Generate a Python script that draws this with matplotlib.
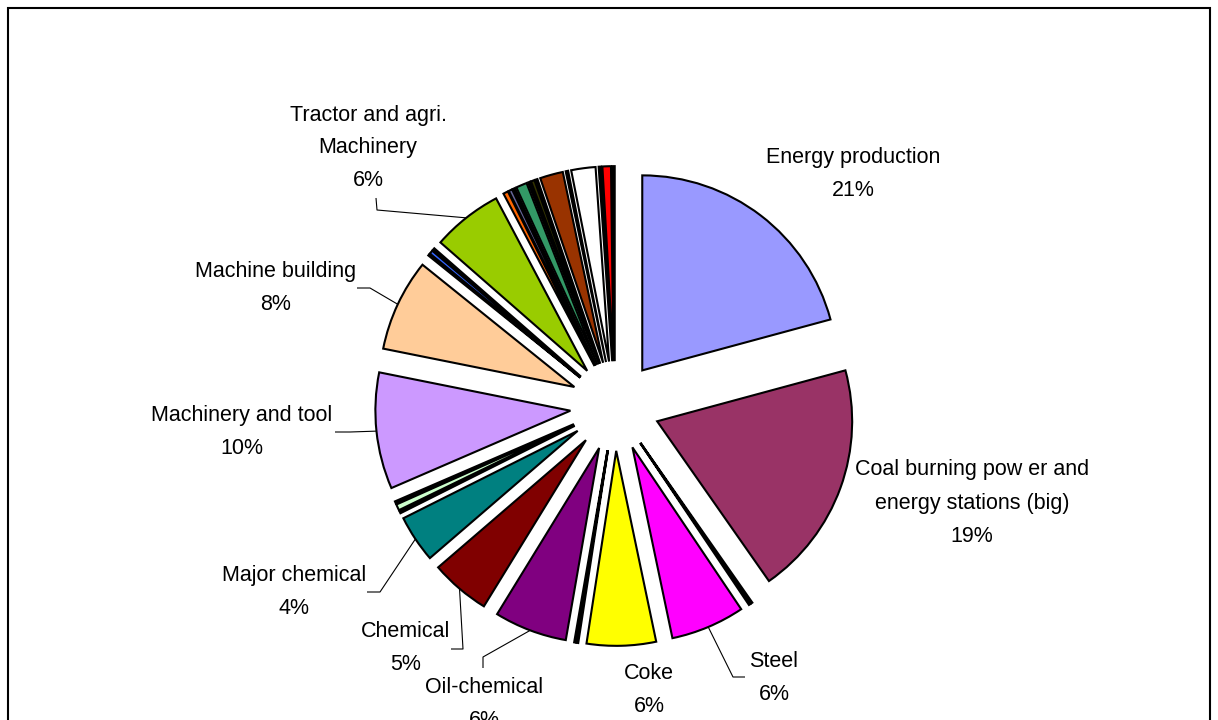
import numpy as np
import matplotlib
matplotlib.use("Agg")
import matplotlib.pyplot as plt
from matplotlib.patches import Rectangle

plt.rcParams['font.family'] = ['Liberation Sans', 'DejaVu Sans']

# Share of emissions by sector (percent), clockwise from 12 o'clock
sectors = [
    "Energy production", "Coal burning pow er and\nenergy stations (big)",
    "Other 1", "Other 2", "Steel", "Coke", "Other 3", "Other 4",
    "Oil-chemical", "Chemical", "Major chemical", "Other 5", "Other 6", "Other 7",
    "Machinery and tool", "Machine building", "Other 8", "Other 9", "Other 10",
    "Tractor and agri.\nMachinery", "Other 11", "Other 12", "Other 13", "Other 14",
    "Other 15", "Other 16", "Other 17", "Other 18", "Other 19", "Other 20",
    "Other 21", "Other 22", "Other 23",
]
shares = [
    20.7, 19.4, 0.15, 0.15, 6.1, 5.7, 0.15, 0.15,
    6.0, 4.9, 3.9, 0.2, 0.5, 0.2,
    9.6, 7.6, 0.15, 0.3, 0.2,
    5.8, 0.4, 0.3, 0.2, 0.9,
    0.2, 0.3, 0.2, 1.9, 0.2, 2.0,
    0.2, 0.7, 0.2,
]
colors = [
    "#9999FF", "#993366", "#000000", "#FFFF99", "#FF00FF", "#FFFF00", "#000000", "#339999",
    "#800080", "#800000", "#008080", "#000000", "#CCFFCC", "#000000",
    "#CC99FF", "#FFCC99", "#000000", "#3366FF", "#000000",
    "#99CC00", "#FF6600", "#666699", "#000000", "#339966",
    "#000000", "#333300", "#000000", "#993300", "#000000", "#FFFFFF",
    "#000000", "#FF0000", "#000000",
]
labelled = ["Energy production", "Coal burning pow er and\nenergy stations (big)",
            "Steel", "Coke", "Oil-chemical", "Chemical", "Major chemical",
            "Machinery and tool", "Machine building", "Tractor and agri.\nMachinery"]

# Layout (pixels, origin top-left)
W, H = 1218, 720
CX, CY, RPX = 615, 406, 195
EXPLODE = 0.23

# label block centres in pixels
label_pos = {
    "Energy production": (853, 174),
    "Coal burning pow er and\nenergy stations (big)": (972, 503),
    "Steel": (774, 678),
    "Coke": (649, 690),
    "Oil-chemical": (484, 704),
    "Chemical": (406, 648),
    "Major chemical": (294, 592),
    "Machinery and tool": (242, 432),
    "Machine building": (276, 288),
    "Tractor and agri.\nMachinery": (368, 148),
}
# leader lines: label-side start and elbow (pixels); end is the wedge arc midpoint
leaders = {
    "Machinery and tool": [(335, 432), (350, 432)],
    "Machine building": [(357, 288), (370, 288)],
    "Tractor and agri.\nMachinery": [(376, 198), (377, 210)],
    "Major chemical": [(367, 592), (380, 592)],
    "Chemical": [(451, 649), (463, 649)],
    "Oil-chemical": [(483, 668), (483, 657)],
    "Steel": [(745, 677), (733, 677)],
}


def px2d(px, py):
    return (px - CX) / RPX, (CY - py) / RPX


fig = plt.figure(figsize=(W / 100, H / 100), dpi=100)
ax = fig.add_axes([0, 0, 1, 1])

wedges, _ = ax.pie(
    shares, colors=colors, startangle=90, counterclock=False,
    explode=[EXPLODE] * len(shares), radius=1.0,
    wedgeprops=dict(edgecolor="black", linewidth=1.5, joinstyle="miter"),
)

ax.set_aspect("auto")
ax.set_xlim(-CX / RPX, (W - CX) / RPX)
ax.set_ylim(-(H - CY) / RPX, CY / RPX)
ax.axis("off")

total = sum(shares)
for name in labelled:
    i = sectors.index(name)
    pct = round(shares[i] / total * 100)
    lx, ly = px2d(*label_pos[name])
    ax.text(lx, ly, f"{name}\n{pct}%", ha="center", va="center",
            fontsize=15.5, linespacing=1.75, color="black")
    if name in leaders:
        w = wedges[i]
        tm = np.deg2rad((w.theta1 + w.theta2) / 2)
        ex, ey = (1 + EXPLODE) * np.cos(tm), (1 + EXPLODE) * np.sin(tm)
        pts = [px2d(*p) for p in leaders[name]] + [(ex, ey)]
        xs, ys = zip(*pts)
        ax.plot(xs, ys, color="black", lw=0.8, solid_capstyle="butt")

# chart frame
fig.patches.append(Rectangle((8 / W, -0.1), (1210 - 8) / W, (H - 8) / H + 0.1,
                             transform=fig.transFigure, fill=False,
                             edgecolor="black", linewidth=1.5))

fig.savefig("out.png", dpi=100)
